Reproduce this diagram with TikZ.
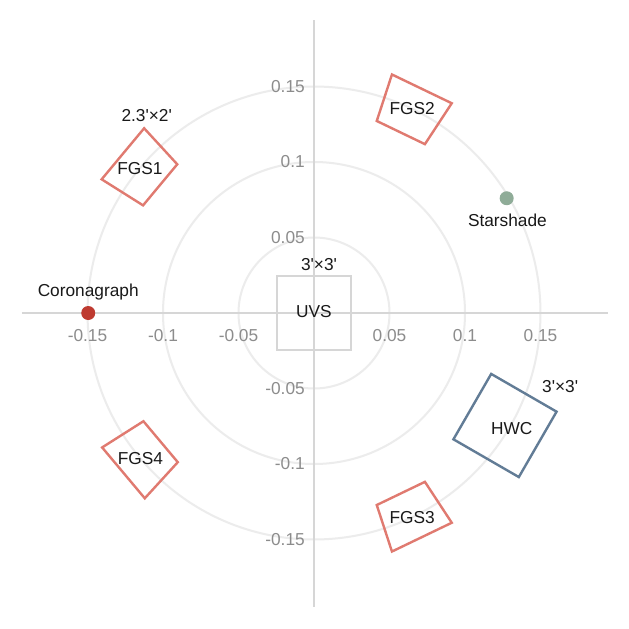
\documentclass[tikz,border=0pt]{standalone}
\usepackage{fontspec}
\setmainfont{Liberation Sans}
\definecolor{axisgray}{RGB}{214,214,214}
\definecolor{ringgray}{RGB}{236,236,236}
\definecolor{ticktext}{RGB}{140,140,140}
\definecolor{fgsred}{RGB}{224,122,112}
\definecolor{hwcblue}{RGB}{98,124,150}
\definecolor{coronared}{RGB}{190,58,48}
\definecolor{stargreen}{RGB}{143,172,152}
\definecolor{textdark}{RGB}{25,25,25}
\newcommand\pr{\textquotesingle}
\newcommand\drawfgs[3]{%
  \draw[fgsbox] ({#1-7.6}:0.1338) -- ({#1+7.6}:0.1338)
     -- ({#1+7.6}:0.1662) -- ({#1-7.6}:0.1662) -- cycle;
  \node[lab] (#2) at ({#1}:0.15) {#3};}
\begin{document}
\begin{tikzpicture}[x=1pt, y=-1pt, font=\fontsize{17.3}{20}\selectfont,
  ticklab/.style={text=ticktext, inner sep=0pt},
  lab/.style={text=textdark, inner sep=0pt},
  ring/.style={draw=ringgray, line width=2pt},
  axisline/.style={draw=axisgray, line width=2pt},
  fgsbox/.style={draw=fgsred, line width=2.4pt, line join=miter},
  dot/.style={circle, inner sep=0pt, minimum size=14pt}]
\useasboundingbox (0,0) rectangle (629,629);
\fill[white] (0,0) rectangle (629,629);
\begin{scope}[shift={(314,313)}, x=1510pt, y=1510pt]
  % rings
  \draw[ring] (0,0) circle[radius=0.05];
  \draw[ring] (0,0) circle[radius=0.1];
  \draw[ring] (0,0) circle[radius=0.15];
  % axes
  \coordinate (xl) at (-0.1934,0);
  \coordinate (xr) at (0.1947,0);
  \coordinate (yt) at (0,0.194);
  \coordinate (yb) at (0,-0.1947);
  \draw[axisline] (xl) -- (xr);
  \draw[axisline] (yt) -- (yb);
  % tick labels
  \foreach \v/\t [count=\i] in {-0.15/-0.15,-0.1/-0.1,-0.05/-0.05,0.05/0.05,0.1/0.1,0.15/0.15}{
    \node[ticklab] (xt\i) at (\v,-0.0146) {\t};
    \node[ticklab, anchor=east] (yt\i) at (-0.006,\v) {\t};
  }
  % UVS
  \node[draw=axisgray, line width=2.4pt, minimum size=74pt, inner sep=0pt] (uvsbox) at (0,0) {};
  \node[lab] (uvs) at (0,0.0007) {UVS};
  \node[lab] (uvssize) at (0.0033,0.0318) {3\pr{}×3\pr};
  % FGS sectors
  \drawfgs{140.2}{fgs1}{FGS1}
  \drawfgs{64.3}{fgs2}{FGS2}
  \drawfgs{-64.3}{fgs3}{FGS3}
  \drawfgs{220.0}{fgs4}{FGS4}
  \node[lab] (fgssize) at (-0.1108,0.1305) {2.3\pr{}×2\pr};
  % HWC
  \node[draw=hwcblue, line width=2.4pt, minimum size=75.5pt, inner sep=0pt, rotate=-30] (hwcbox) at (0.1265,-0.0745) {};
  \node[lab] (hwc) at (0.131,-0.0762) {HWC};
  \node[lab] (hwcsize) at (0.163,-0.0488) {3\pr{}×3\pr};
  % Starshade
  \node[dot, fill=stargreen] (star) at (0.1276,0.076) {};
  \node[lab] (starlab) at (0.1281,0.0616) {Starshade};
  % Coronagraph
  \node[dot, fill=coronared] (coro) at (-0.1495,0) {};
  \node[lab] (corolab) at (-0.1495,0.0141) {Coronagraph};
\end{scope}
\end{tikzpicture}
\end{document}
